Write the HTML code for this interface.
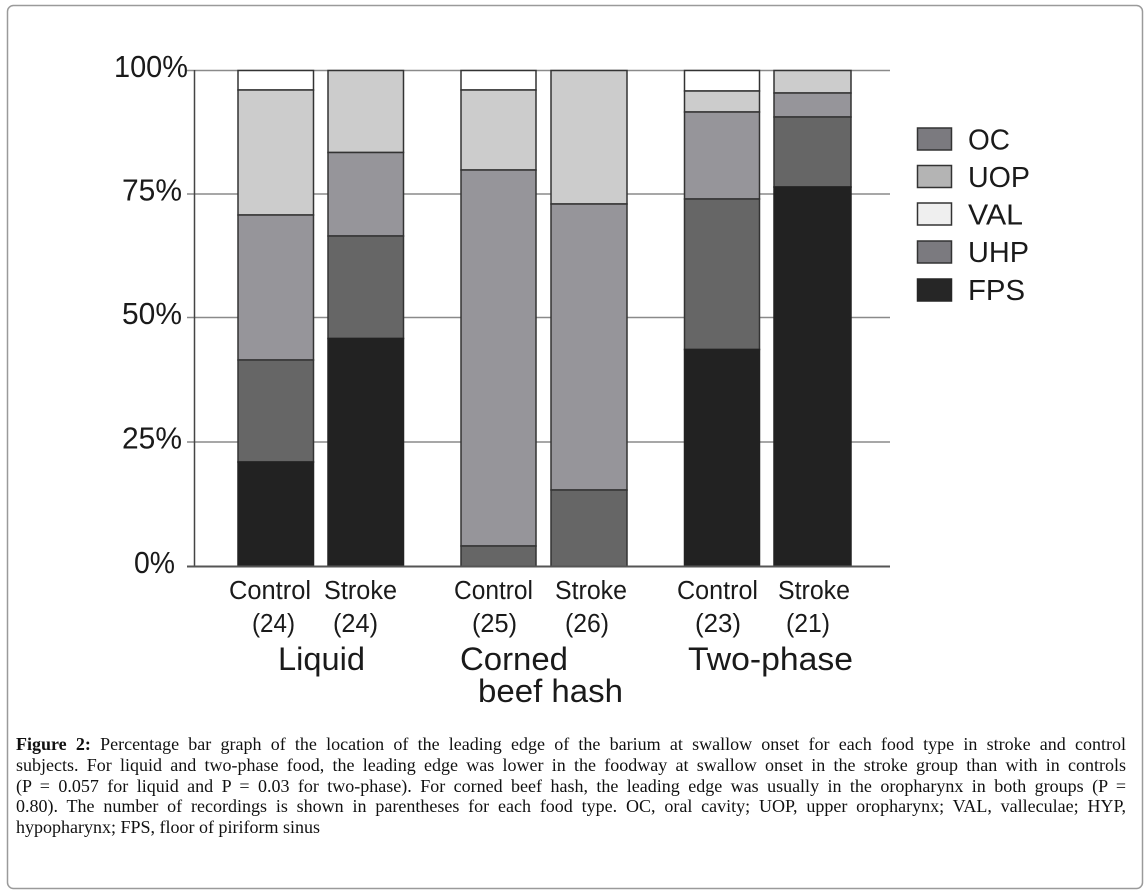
<!DOCTYPE html>
<html>
<head>
<meta charset="utf-8">
<style>
  html, body { margin:0; padding:0; background:#fff; }
  body { width:1145px; height:892px; position:relative; overflow:hidden; }
  svg { position:absolute; left:0; top:0; }
  .cap { position:absolute; left:16px; width:1110px; font-family:"Liberation Serif", serif; font-size:18px; line-height:20px; color:#111; text-align:justify; text-align-last:justify; white-space:normal; }
  .cap.last { text-align-last:left; }
  .cap b { font-weight:bold; }
</style>
</head>
<body>
<svg width="1145" height="892" viewBox="0 0 1145 892" xmlns="http://www.w3.org/2000/svg">
  <rect x="7.5" y="5.5" width="1135" height="883" rx="6" ry="6" fill="#fff" stroke="#9a9a9a" stroke-width="1.5"/>

  <!-- gridlines -->
  <g stroke="#8a8a8a" stroke-width="1.5">
    <line x1="187" y1="70.5" x2="890" y2="70.5"/>
    <line x1="187" y1="194" x2="890" y2="194"/>
    <line x1="187" y1="317.5" x2="890" y2="317.5"/>
    <line x1="187" y1="442" x2="890" y2="442"/>
  </g>

  <!-- bars -->
  <g stroke="#333" stroke-width="1.5">
    <!-- Liquid Control -->
    <rect x="238" y="70.5" width="75.5" height="19.5" fill="#ffffff"/>
    <rect x="238" y="90" width="75.5" height="125" fill="#cccccc"/>
    <rect x="238" y="215" width="75.5" height="145" fill="#96959a"/>
    <rect x="238" y="360" width="75.5" height="102" fill="#666666"/>
    <rect x="238" y="462" width="75.5" height="104.5" fill="#222222" stroke="#222"/>
    <!-- Liquid Stroke -->
    <rect x="328" y="70.5" width="75.5" height="82" fill="#cccccc"/>
    <rect x="328" y="152.5" width="75.5" height="83.5" fill="#96959a"/>
    <rect x="328" y="236" width="75.5" height="102.5" fill="#666666"/>
    <rect x="328" y="338.5" width="75.5" height="228" fill="#222222" stroke="#222"/>
    <!-- Corned Control -->
    <rect x="461" y="70.5" width="75" height="19.5" fill="#ffffff"/>
    <rect x="461" y="90" width="75" height="80" fill="#cccccc"/>
    <rect x="461" y="170" width="75" height="376" fill="#96959a"/>
    <rect x="461" y="546" width="75" height="20.5" fill="#666666"/>
    <!-- Corned Stroke -->
    <rect x="551" y="70.5" width="76" height="133.5" fill="#cccccc"/>
    <rect x="551" y="204" width="76" height="286" fill="#96959a"/>
    <rect x="551" y="490" width="76" height="76.5" fill="#666666"/>
    <!-- Two-phase Control -->
    <rect x="684.5" y="70.5" width="75" height="20.5" fill="#ffffff"/>
    <rect x="684.5" y="91" width="75" height="21" fill="#cccccc"/>
    <rect x="684.5" y="112" width="75" height="87" fill="#96959a"/>
    <rect x="684.5" y="199" width="75" height="150.5" fill="#666666"/>
    <rect x="684.5" y="349.5" width="75" height="217" fill="#222222" stroke="#222"/>
    <!-- Two-phase Stroke -->
    <rect x="774" y="70.5" width="77" height="22.5" fill="#cccccc"/>
    <rect x="774" y="93" width="77" height="24" fill="#96959a"/>
    <rect x="774" y="117" width="77" height="70" fill="#666666"/>
    <rect x="774" y="187" width="77" height="379.5" fill="#222222" stroke="#222"/>
  </g>

  <!-- axes -->
  <line x1="194.5" y1="70" x2="194.5" y2="567" stroke="#444" stroke-width="1.5"/>
  <line x1="187" y1="566.5" x2="890" y2="566.5" stroke="#555" stroke-width="2"/>

  <!-- y tick labels -->
  <g font-family="Liberation Sans, Arial, sans-serif" font-size="31" fill="#1a1a1a">
    <text x="114" y="77" textLength="74" lengthAdjust="spacingAndGlyphs">100%</text>
    <text x="122" y="200.5" textLength="60" lengthAdjust="spacingAndGlyphs">75%</text>
    <text x="122" y="324" textLength="60" lengthAdjust="spacingAndGlyphs">50%</text>
    <text x="122" y="448.5" textLength="60" lengthAdjust="spacingAndGlyphs">25%</text>
    <text x="134" y="573" textLength="41" lengthAdjust="spacingAndGlyphs">0%</text>
  </g>

  <!-- category labels -->
  <g font-family="Liberation Sans, Arial, sans-serif" font-size="25.5" fill="#1a1a1a">
    <text x="229" y="599" textLength="82" lengthAdjust="spacingAndGlyphs">Control</text>
    <text x="324" y="599" textLength="73" lengthAdjust="spacingAndGlyphs">Stroke</text>
    <text x="252" y="632" textLength="43" lengthAdjust="spacingAndGlyphs">(24)</text>
    <text x="333" y="632" textLength="45" lengthAdjust="spacingAndGlyphs">(24)</text>

    <text x="454" y="599" textLength="79" lengthAdjust="spacingAndGlyphs">Control</text>
    <text x="555" y="599" textLength="72" lengthAdjust="spacingAndGlyphs">Stroke</text>
    <text x="472" y="632" textLength="45" lengthAdjust="spacingAndGlyphs">(25)</text>
    <text x="565" y="632" textLength="44" lengthAdjust="spacingAndGlyphs">(26)</text>

    <text x="677" y="599" textLength="81" lengthAdjust="spacingAndGlyphs">Control</text>
    <text x="778" y="599" textLength="72" lengthAdjust="spacingAndGlyphs">Stroke</text>
    <text x="695" y="632" textLength="46" lengthAdjust="spacingAndGlyphs">(23)</text>
    <text x="786" y="632" textLength="44" lengthAdjust="spacingAndGlyphs">(21)</text>
  </g>
  <g font-family="Liberation Sans, Arial, sans-serif" font-size="32" fill="#1a1a1a">
    <text x="278" y="670" textLength="87" lengthAdjust="spacingAndGlyphs">Liquid</text>
    <text x="460" y="670" textLength="108" lengthAdjust="spacingAndGlyphs">Corned</text>
    <text x="478" y="702" textLength="145" lengthAdjust="spacingAndGlyphs">beef hash</text>
    <text x="688" y="670" textLength="165" lengthAdjust="spacingAndGlyphs">Two-phase</text>
  </g>

  <!-- legend -->
  <g stroke="#333" stroke-width="1.5">
    <rect x="917.5" y="128" width="34" height="22" fill="#7b7a7f"/>
    <rect x="917.5" y="165.5" width="34" height="22" fill="#b4b4b4"/>
    <rect x="917.5" y="203" width="34" height="22" fill="#efefef"/>
    <rect x="917.5" y="241" width="34" height="22" fill="#7b7a7f"/>
    <rect x="917.5" y="279" width="34" height="22" fill="#262626" stroke="#262626"/>
  </g>
  <g font-family="Liberation Sans, Arial, sans-serif" font-size="29" fill="#1a1a1a">
    <text x="968" y="149.5" textLength="42" lengthAdjust="spacingAndGlyphs">OC</text>
    <text x="968" y="187" textLength="62" lengthAdjust="spacingAndGlyphs">UOP</text>
    <text x="968" y="224.5" textLength="55" lengthAdjust="spacingAndGlyphs">VAL</text>
    <text x="968" y="262" textLength="61" lengthAdjust="spacingAndGlyphs">UHP</text>
    <text x="968" y="300" textLength="57" lengthAdjust="spacingAndGlyphs">FPS</text>
  </g>
</svg>

<div class="cap" style="top:734px;"><b>Figure 2:</b> Percentage bar graph of the location of the leading edge of the barium at swallow onset for each food type in stroke and control</div>
<div class="cap" style="top:755px;">subjects. For liquid and two-phase food, the leading edge was lower in the foodway at swallow onset in the stroke group than with in controls</div>
<div class="cap" style="top:775.5px;">(P = 0.057 for liquid and P = 0.03 for two-phase). For corned beef hash, the leading edge was usually in the oropharynx in both groups (P =</div>
<div class="cap" style="top:796px;">0.80). The number of recordings is shown in parentheses for each food type. OC, oral cavity; UOP, upper oropharynx; VAL, valleculae; HYP,</div>
<div class="cap last" style="top:816.5px;">hypopharynx; FPS, floor of piriform sinus</div>
</body>
</html>
